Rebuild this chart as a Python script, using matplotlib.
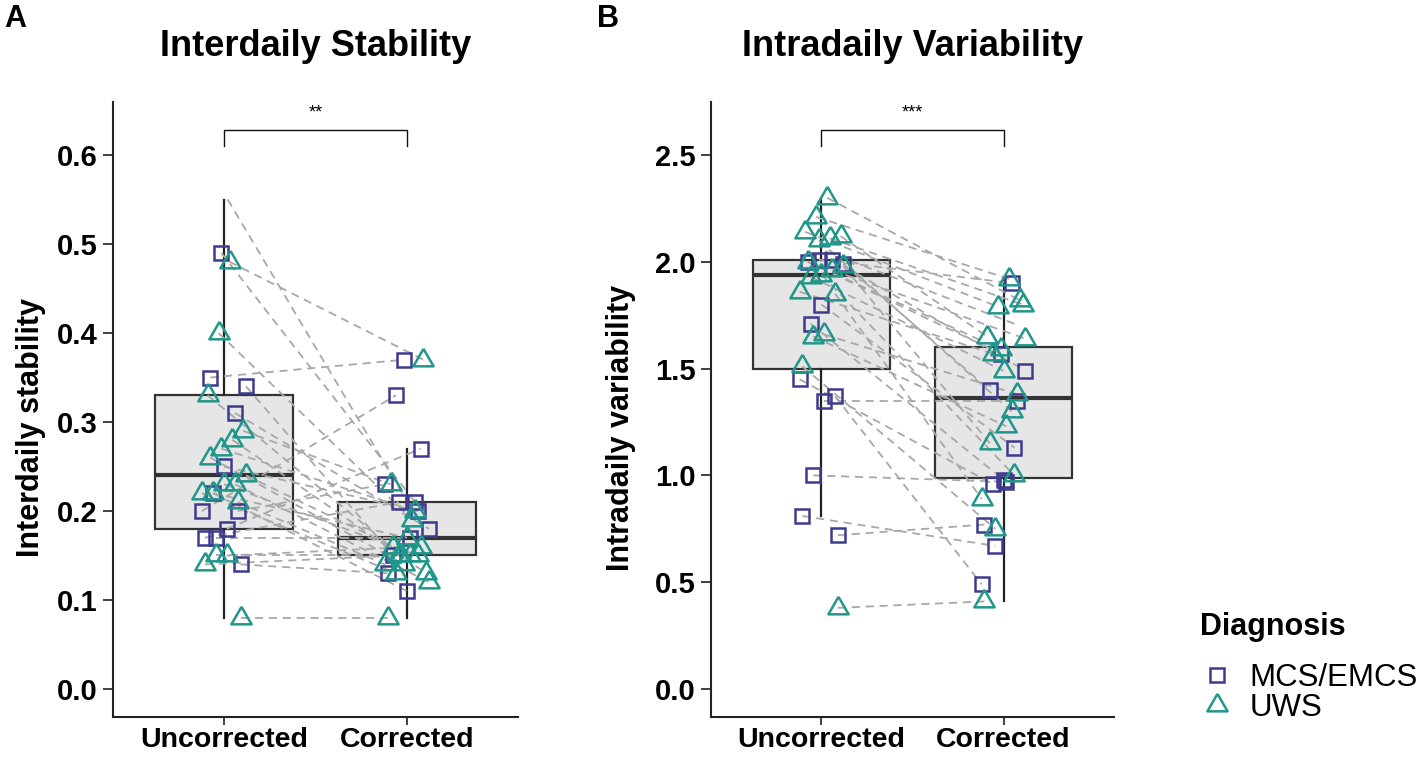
import matplotlib
matplotlib.use("Agg")
import matplotlib.pyplot as plt
from matplotlib.lines import Line2D
import numpy as np

plt.rcParams['font.family'] = ['Liberation Sans', 'DejaVu Sans']

# ---------------- data ----------------
groups = ["Uncorrected", "Corrected"]
diag_levels = ["MCS/EMCS", "UWS"]

# one entry per subject (paired Uncorrected -> Corrected)
diagnosis = (["MCS/EMCS"] * 12) + (["UWS"] * 17) + ["NA"]

is_uncorrected = [0.49, 0.35, 0.34, 0.31, 0.25, 0.22, 0.20, 0.20, 0.18, 0.17, 0.17, 0.14,
                  0.48, 0.40, 0.33, 0.29, 0.28, 0.27, 0.26, 0.24, 0.23, 0.23, 0.22, 0.22,
                  0.21, 0.15, 0.15, 0.14, 0.08,
                  0.55]
is_corrected = [0.21, 0.37, 0.15, 0.18, 0.20, 0.11, 0.33, 0.23, 0.27, 0.17, 0.21, 0.13,
                0.37, 0.19, 0.15, 0.23, 0.13, 0.20, 0.14, 0.16, 0.12, 0.15, 0.17, 0.13,
                0.14, 0.16, 0.15, 0.15, 0.08,
                0.18]

iv_uncorrected = [2.01, 2.00, 1.99, 2.01, 1.80, 1.71, 1.45, 1.37, 1.35, 1.00, 0.81, 0.72,
                  2.30, 2.21, 2.14, 2.12, 2.11, 2.10, 2.00, 1.98, 1.96, 1.94, 1.93, 1.86,
                  1.85, 1.66, 1.65, 1.51, 0.38,
                  2.05]
iv_corrected = [1.90, 1.57, 1.40, 1.49, 1.13, 0.98, 0.96, 0.49, 1.35, 0.97, 0.67, 0.77,
                1.82, 1.92, 1.79, 1.65, 1.80, 1.30, 1.59, 1.15, 1.64, 1.00, 1.49, 1.57,
                0.89, 1.38, 1.23, 0.75, 0.41,
                1.70]

# box statistics (Uncorrected, Corrected)
is_whislo = [0.08, 0.08]
is_q1 = [0.18, 0.15]
is_med = [0.24, 0.17]
is_q3 = [0.33, 0.21]
is_whishi = [0.55, 0.27]

iv_whislo = [0.81, 0.41]
iv_q1 = [1.50, 0.99]
iv_med = [1.94, 1.36]
iv_q3 = [2.01, 1.60]
iv_whishi = [2.29, 1.92]

is_ticks = [0.0, 0.1, 0.2, 0.3, 0.4, 0.5, 0.6]
iv_ticks = [0.0, 0.5, 1.0, 1.5, 2.0, 2.5]

# ---------------- style ----------------
col = {"MCS/EMCS": "#3D3B8E", "UWS": "#21968A"}
tri = [(0, 1.0), (-0.866, -0.5), (0.866, -0.5), (0, 1.0)]
mk = {"MCS/EMCS": dict(marker="s", ms=9.4), "UWS": dict(marker=tri, ms=16.8)}
MEW = 1.8

fig = plt.figure(figsize=(14.18, 7.58), dpi=100)
W, H = 1418, 758


def ax_rect(x0, x1, y0, y1):
    return [x0 / W, 1 - y1 / H, (x1 - x0) / W, (y1 - y0) / H]


def jitter(n, seed):
    k = np.arange(n)
    return (((k * 13 + seed * 7) % 17) / 16.0 - 0.5) * 0.24


def panel(ax, unc, cor, lo, q1, med, q3, hi, ylim, ticks, title, ylabel, sig,
          sig_y, sig_drop, ylab_x):
    stats = []
    for i in range(2):
        stats.append(dict(whislo=lo[i], q1=q1[i], med=med[i], q3=q3[i],
                          whishi=hi[i], label=groups[i]))
    ax.bxp(stats, positions=[0, 1], widths=0.75, showfliers=False, showcaps=False,
           patch_artist=True,
           boxprops=dict(facecolor="#E6E6E6", edgecolor="#333333", linewidth=1.6),
           whiskerprops=dict(color="#222222", linewidth=1.6),
           medianprops=dict(color="#333333", linewidth=3.0), zorder=1)
    n = len(unc)
    ju = jitter(n, 1)
    jc = jitter(n, 4)
    for i in range(n):
        if diagnosis[i] not in col:
            ju[i] = 0.02
        ax.plot([0 + ju[i], 1 + jc[i]], [unc[i], cor[i]], color="#A8A8A8",
                lw=1.3, ls=(0, (4.5, 3.2)), zorder=2)
    for i in range(n):
        d = diagnosis[i]
        if d not in col:
            continue
        for xv, yv in ((0 + ju[i], unc[i]), (1 + jc[i], cor[i])):
            ax.plot([xv], [yv], ls="none", mfc="none", mec=col[d], mew=MEW,
                    zorder=3, **mk[d])
    ax.set_xlim(-0.607, 1.607)
    ax.set_ylim(*ylim)
    ax.set_yticks(ticks)
    ax.set_yticklabels([f"{t:.1f}" for t in ticks])
    ax.set_xticks([0, 1])
    ax.set_xticklabels(groups)
    for s in ("top", "right"):
        ax.spines[s].set_visible(False)
    for s in ("left", "bottom"):
        ax.spines[s].set_linewidth(1.5)
        ax.spines[s].set_color("#222222")
    ax.tick_params(axis="both", width=1.3, color="#333333")
    ax.tick_params(axis="y", length=7, labelsize=21, pad=4)
    ax.tick_params(axis="x", length=6, labelsize=20.5, pad=1.5)
    for lab in ax.get_xticklabels() + ax.get_yticklabels():
        lab.set_fontweight("bold")
    ax.set_ylabel(ylabel, fontsize=22, fontweight="bold")
    ax.yaxis.set_label_coords(ylab_x, 0.47)
    # significance bracket
    ax.plot([0, 0, 1, 1], [sig_y - sig_drop, sig_y, sig_y, sig_y - sig_drop],
            color="#111111", lw=1.0, clip_on=False, zorder=4)
    ax.text(0.5, sig_y + sig_drop * 0.55, sig, ha="center", va="bottom",
            fontsize=13, clip_on=False)
    pos = ax.get_position()
    fig.text(pos.x0 + pos.width / 2, 1 - 47 / H, title, ha="center", va="center",
             fontsize=26, fontweight="bold")


axA = fig.add_axes(ax_rect(113, 518, 102, 717))
panel(axA, is_uncorrected, is_corrected, is_whislo, is_q1, is_med, is_q3, is_whishi,
      (-0.0315, 0.6596), is_ticks, "Interdaily Stability", "Interdaily stability",
      "**", 0.628, 0.018, -0.165)

axB = fig.add_axes(ax_rect(711, 1114, 102, 717))
panel(axB, iv_uncorrected, iv_corrected, iv_whislo, iv_q1, iv_med, iv_q3, iv_whishi,
      (-0.131, 2.748), iv_ticks, "Intradaily Variability", "Intradaily variability",
      "***", 2.617, 0.075, -0.185)

fig.text(4 / W, 1 - 4 / H, "A", ha="left", va="top", fontsize=22, fontweight="bold")
fig.text(597 / W, 1 - 4 / H, "B", ha="left", va="top", fontsize=22, fontweight="bold")

fig.text(1200 / W, 1 - 627 / H, "Diagnosis", ha="left", va="center",
         fontsize=22, fontweight="bold")
handles = [Line2D([], [], ls="none", mfc="none", mec=col[d], mew=MEW, **mk[d])
           for d in diag_levels]
leg = fig.legend(handles, diag_levels, loc="upper left",
                 bbox_to_anchor=(1201 / W, 1 - 663 / H), frameon=False,
                 fontsize=22.5, handlelength=1.0, handletextpad=0.55,
                 labelspacing=0.0, borderaxespad=0, borderpad=0)

fig.savefig("out.png", dpi=100)
